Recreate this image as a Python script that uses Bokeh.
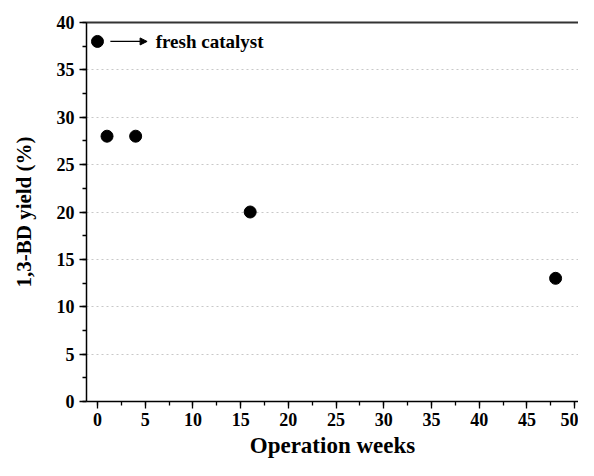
from bokeh.plotting import figure
from bokeh.models import LinearAxis, Arrow, NormalHead, Label, SingleIntervalTicker, Range1d
from bokeh.embed import file_html
from bokeh.resources import INLINE

weeks = [0, 1, 4, 16, 48]
yield_pct = [38, 28, 28, 20, 13]
annot_text = "fresh catalyst"
annot_y = 38
arrow_x0, arrow_x1, text_x = 1.35, 5.2, 6.1

FONT = "Liberation Serif"

p = figure(width=578, height=460, output_backend="svg", toolbar_location=None,
           x_range=Range1d(-1.15, 50.4), y_range=Range1d(0, 40),
           min_border_left=86, min_border_top=22, min_border_right=0, min_border_bottom=58,
           x_axis_label="Operation weeks", y_axis_label="1,3-BD yield (%)")
p.outline_line_color = None
p.background_fill_color = "white"

p.scatter(weeks, yield_pct, size=12, color="black")

arrow = Arrow(end=NormalHead(size=7, fill_color="black", line_color="black"),
              x_start=arrow_x0, y_start=annot_y, x_end=arrow_x1, y_end=annot_y,
              line_width=1.3, line_color="black")
p.add_layout(arrow)
p.add_layout(Label(x=text_x, y=annot_y, text=annot_text, text_font=FONT,
                   text_font_style="bold", text_font_size="19px",
                   text_baseline="middle", text_color="black"))

for ax in (p.xaxis[0], p.yaxis[0]):
    ax.axis_line_width = 1.5
    ax.axis_line_color = "black"
    ax.major_tick_line_color = "black"
    ax.minor_tick_line_color = "black"
    ax.major_tick_line_width = 1.3
    ax.minor_tick_line_width = 1.3
    ax.major_tick_in = 0
    ax.major_tick_out = 7
    ax.minor_tick_in = 0
    ax.minor_tick_out = 4
    ax.major_label_text_font = FONT
    ax.major_label_text_font_style = "bold"
    ax.major_label_text_font_size = "18px"
    ax.major_label_text_color = "black"
    ax.axis_label_text_font = FONT
    ax.axis_label_text_font_style = "bold"
    ax.axis_label_text_color = "black"

p.xaxis[0].axis_label_text_font_size = "23px"
p.yaxis[0].axis_label_text_font_size = "21px"
p.xaxis[0].ticker = SingleIntervalTicker(interval=5, num_minor_ticks=2)
p.yaxis[0].ticker = SingleIntervalTicker(interval=5, num_minor_ticks=2)
p.xaxis[0].major_label_standoff = 4
p.xaxis[0].axis_label_standoff = 4
p.yaxis[0].major_label_standoff = 5
p.yaxis[0].axis_label_standoff = 18

top = LinearAxis(major_tick_line_color=None, minor_tick_line_color=None,
                 major_label_text_font_size="0px", axis_line_color="#333333",
                 axis_line_width=1.8)
p.add_layout(top, "above")

p.xgrid.grid_line_color = None
p.ygrid.grid_line_color = "#c8c8c8"
p.ygrid.grid_line_dash = "2 3"
p.ygrid.grid_line_width = 1

open("out.html", "w").write(file_html(p, INLINE))
